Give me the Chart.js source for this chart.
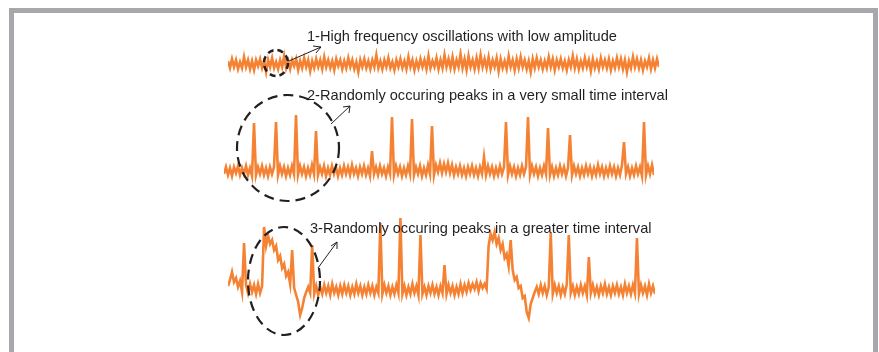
<!DOCTYPE html>
<html>
<head>
<meta charset="utf-8">
<script src="https://cdn.jsdelivr.net/npm/chart.js@4.4.0/dist/chart.umd.min.js"></script>
<style>
  html, body { margin: 0; padding: 0; background: #fff; }
  #page { position: relative; width: 879px; height: 352px; overflow: hidden; background: #fff; }
  #frame { position: absolute; left: 9px; top: 8px; width: 859px; height: 400px; border: 5px solid #a7a8ab; background: #fff; }
  canvas.trace { position: absolute; }
  #notes { position: absolute; left: 0; top: 0; }
</style>
</head>
<body>
<div id="page">
  <div id="frame"></div>
  <canvas id="trace1" class="trace" width="431" height="32" style="left:228px;top:48px"></canvas>
  <canvas id="trace2" class="trace" width="430" height="76" style="left:224px;top:110px"></canvas>
  <canvas id="trace3" class="trace" width="427" height="112" style="left:228px;top:212px"></canvas>
  <svg id="notes" width="879" height="352">
    <g font-family="'Liberation Sans', Arial, sans-serif" font-size="14.6" fill="#231f20">
      <text x="307" y="41">1-High frequency oscillations with low amplitude</text>
      <text x="307" y="100">2-Randomly occuring peaks in a very small time interval</text>
      <text x="310" y="233">3-Randomly occuring peaks in a greater time interval</text>
    </g>
    <g fill="none" stroke="#231f20">
      <ellipse cx="276" cy="63" rx="12" ry="13" stroke-width="2.5" stroke-dasharray="6 4"></ellipse>
      <ellipse cx="288" cy="148" rx="51" ry="53" stroke-width="2.2" stroke-dasharray="10 6"></ellipse>
      <ellipse cx="284" cy="281" rx="36" ry="54" stroke-width="2.2" stroke-dasharray="10 6"></ellipse>
      <g stroke-width="1">
        <line x1="289" y1="61" x2="321" y2="47"></line>
        <polyline points="313,46 321,47 316,53"></polyline>
        <line x1="331" y1="124" x2="350" y2="106"></line>
        <polyline points="343,107 350,106 349,113"></polyline>
        <line x1="318" y1="268" x2="337" y2="242"></line>
        <polyline points="331,246 337,242 337,249"></polyline>
      </g>
    </g>
  </svg>
</div>
<script>
// signal values (baseline = 0, one sample every ~2px)
const trace1Values = [
  3,-4,5,-3,4,-5,2,-4,7,-3,4,-5,
  3,-6,4,-2,5,-4,3,-8,4,-3,6,-4,
  2,-5,4,-3,8,-4,3,-5,4,-2,5,-6,
  3,-4,6,-3,4,-7,3,-4,5,-3,4,-5,
  7,-3,4,-4,3,-6,5,-2,4,-5,3,-4,
  6,-3,4,-5,2,-8,4,-3,5,-4,3,-5,
  4,-3,9,-4,3,-5,4,-3,6,-4,2,-6,
  4,-3,5,-4,3,-5,7,-3,4,-6,3,-4,
  5,-3,4,-5,8,-4,3,-3,6,-5,4,-4,
  9,-3,5,-4,7,-5,4,-3,10,-4,5,-6,
  8,-3,4,-5,6,-4,9,-3,5,-4,7,-5,
  4,-3,6,-7,5,-4,3,-5,8,-3,4,-6,
  5,-4,7,-3,4,-5,3,-8,5,-4,6,-3,
  4,-5,3,-4,7,-3,5,-6,4,-3,5,-4,
  3,-6,4,-3,8,-4,5,-5,3,-4,6,-3,
  4,-7,5,-4,3,-5,6,-3,4,-4,5,-6,
  3,-4,6,-3,5,-5,4,-8,3,-4,7,-3,
  5,-4,4,-6,3,-3,6,-5,4,-4,5,-3
];

const trace2Values = [
  -3,4,-4,3,-5,4,-2,5,-4,3,-3,5,
  -4,3,-5,48,-4,4,-3,5,-4,3,-5,4,
  -3,4,49,-4,5,-3,4,-5,3,-4,5,-3,
  56,-4,5,-3,4,-5,3,-4,6,-3,40,-4,
  4,-3,5,-5,3,-4,5,-3,4,-5,3,-4,
  5,-3,4,-4,6,-3,3,-5,4,-3,5,-4,
  3,-5,20,-3,4,-4,5,-3,3,-5,4,-3,
  54,-4,5,-3,4,-5,3,-4,5,-3,52,-4,
  4,-3,5,-5,3,-4,6,-3,45,-4,6,-1,
  8,-2,7,-1,8,-2,6,-4,4,-3,5,-4,
  3,-5,4,-3,5,-4,3,-5,4,-3,14,-4,
  5,-3,4,-5,3,-4,5,-3,4,49,-4,5,
  -3,4,-5,3,-4,5,-3,4,54,-4,5,-3,
  4,-5,3,-4,5,-3,43,-4,4,-5,3,-4,
  5,-3,4,-5,3,36,-4,5,-3,4,-5,3,
  -4,5,-3,4,-5,3,-4,6,-3,4,-5,3,
  -4,5,-3,4,-5,3,-4,6,29,-3,4,-5,
  3,-4,5,-3,4,-5,49,-4,5,-3,6,-4
];

const trace3Values = [
  4,10,18,8,12,3,9,-2,47,5,-3,6,
  -2,5,-4,6,-3,4,63,44,54,46,50,40,
  44,30,34,22,26,14,18,6,40,2,-5,-12,
  -25,-18,-8,-2,3,-3,45,-4,4,-5,3,-4,
  5,-3,4,-5,6,-3,3,-5,4,-4,5,-3,
  4,-5,3,-4,6,-3,4,-5,3,-4,5,-3,
  4,-5,3,-3,67,-4,5,-3,4,-5,3,-4,
  5,-3,72,-4,4,-5,3,-4,6,-3,4,-5,
  55,-4,3,-5,4,-3,5,-4,3,-5,4,-3,
  25,-4,5,-3,4,-5,3,-4,6,-3,5,-2,
  7,0,6,1,8,-1,7,2,6,1,44,56,
  50,58,46,52,40,46,32,36,24,50,20,10,
  13,2,4,-8,-6,-22,-28,-14,-8,-2,3,-4,
  5,-3,4,-5,3,57,-4,5,-3,4,-5,3,
  -4,6,55,-3,4,-5,3,-4,5,-3,4,-5,
  33,-3,5,-4,3,-5,4,-3,6,-4,3,-5,
  4,-3,5,-4,3,-5,6,-3,4,-4,5,-3,
  52,-4,5,-3,4,-5,6,-3,4,-4
];

const yRanges = {
  trace1: [-16, 16],
  trace2: [-15, 61],
  trace3: [-34, 78]
};

const lineColor = '#f58233';

function drawTrace(id, values) {
  const ctx = document.getElementById(id);
  new Chart(ctx, {
    type: 'line',
    data: {
      labels: values.map((v, i) => i),
      datasets: [{
        data: values,
        borderColor: lineColor,
        borderWidth: 2.6,
        pointRadius: 0,
        tension: 0,
        fill: false
      }]
    },
    options: {
      responsive: false,
      animation: false,
      layout: { padding: 0 },
      plugins: { legend: { display: false }, tooltip: { enabled: false } },
      scales: {
        x: { display: false, offset: false },
        y: { display: false, min: yRanges[id][0], max: yRanges[id][1] }
      }
    }
  });
}

drawTrace('trace1', trace1Values);
drawTrace('trace2', trace2Values);
drawTrace('trace3', trace3Values);
</script>
</body>
</html>
